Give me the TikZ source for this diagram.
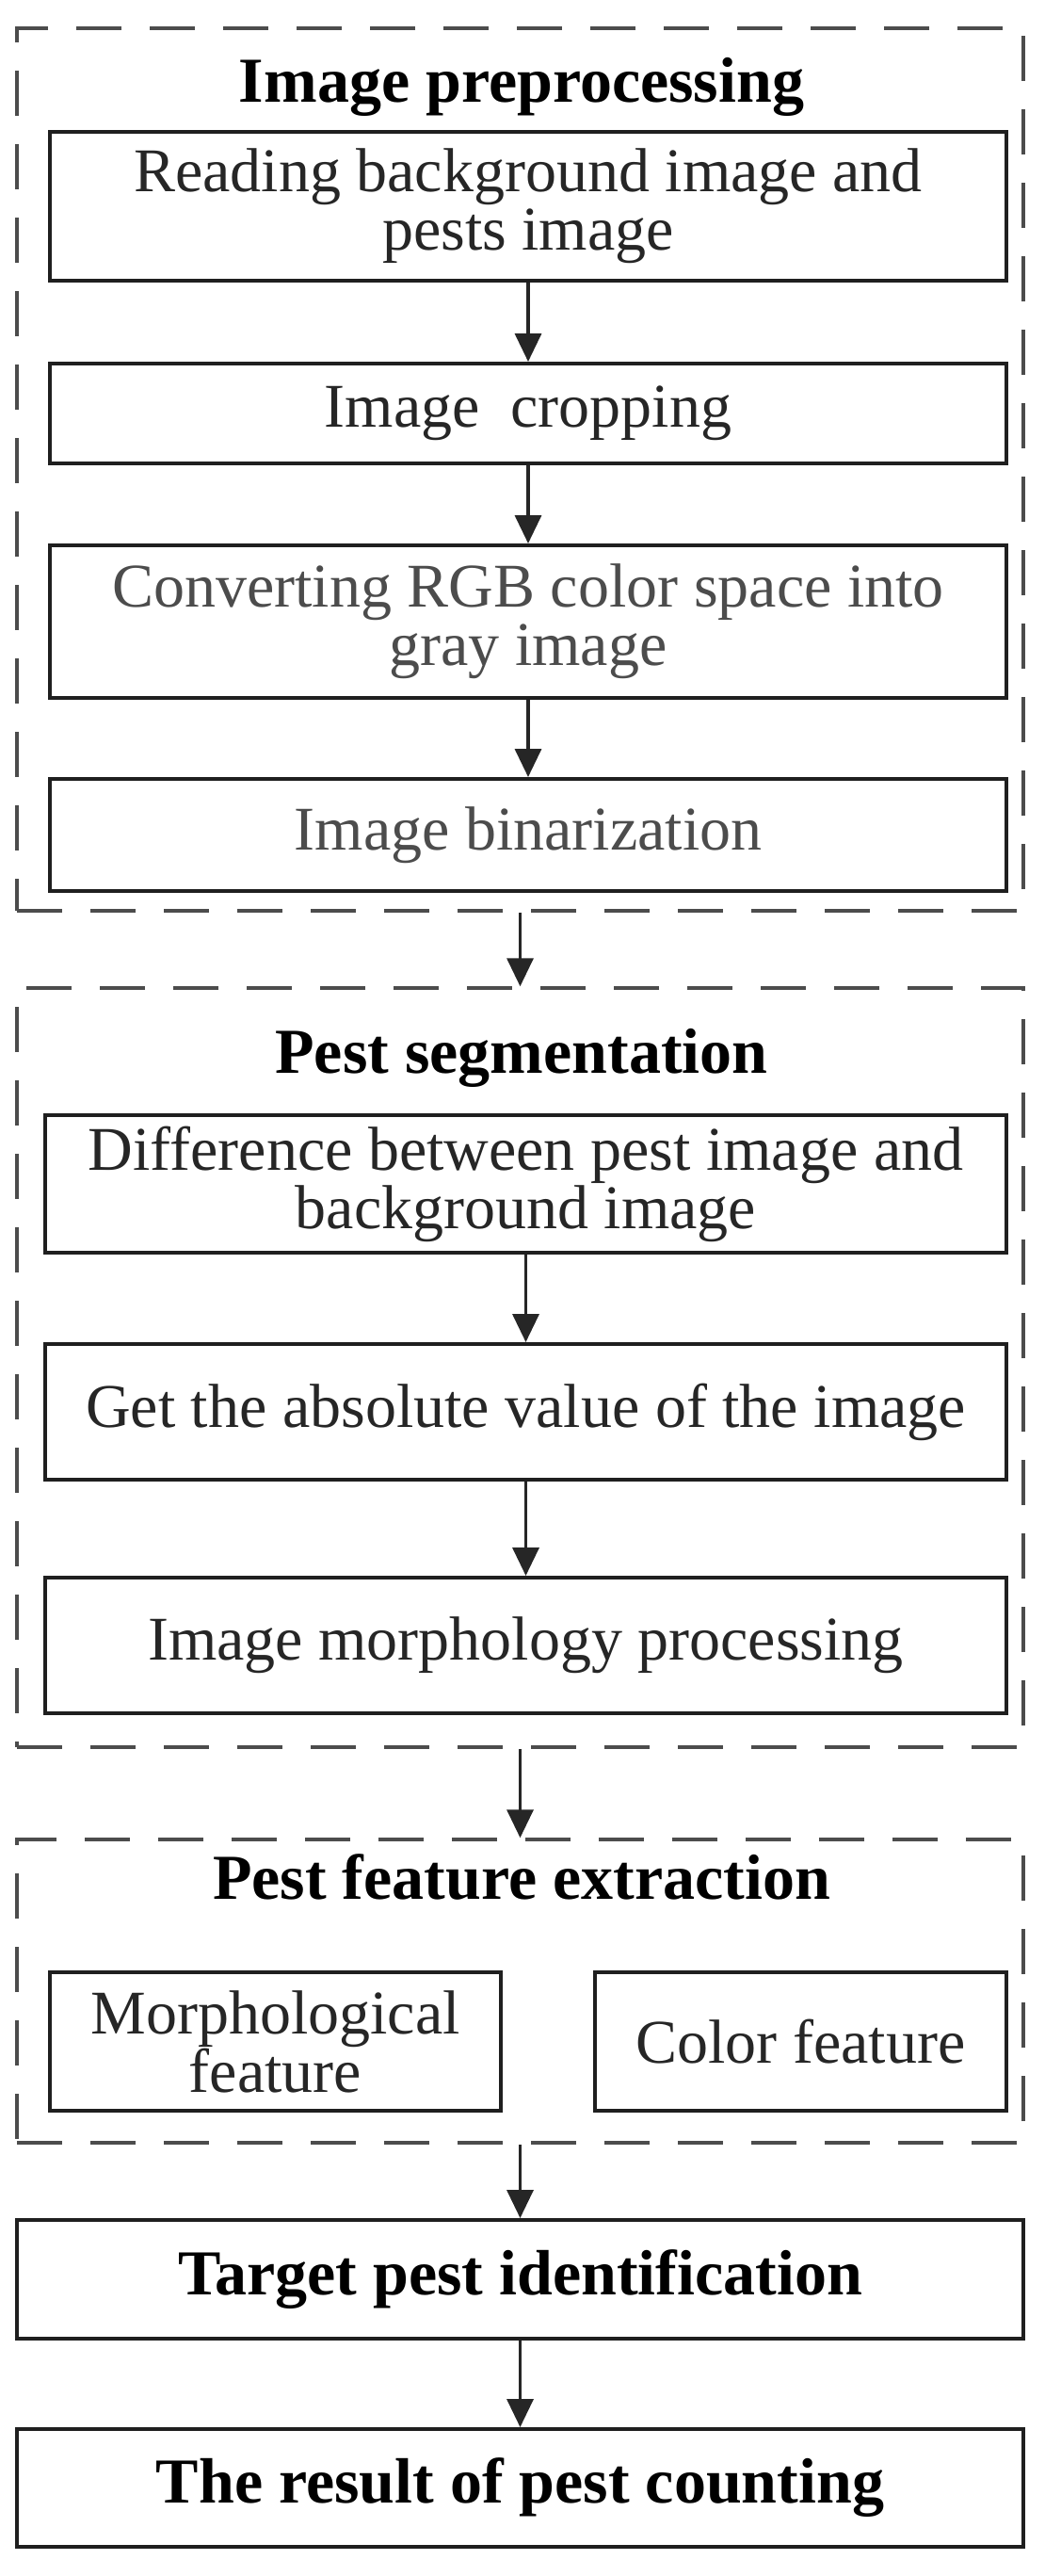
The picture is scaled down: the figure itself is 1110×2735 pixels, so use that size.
\documentclass[tikz,border=0pt]{standalone}
\usepackage{fontspec}
\setmainfont{Liberation Serif}
\usetikzlibrary{arrows.meta}
\begin{document}
\begin{tikzpicture}[x=1pt,y=-1pt,
  box/.style={draw=black!88,line width=4pt,inner sep=0pt,align=center,font=\fontsize{66}{62}\selectfont,text=black!85},
  grp/.style={draw=black!70,line width=3.5pt,dash pattern=on 48pt off 30pt,inner sep=0pt},
  ttl/.style={font=\fontsize{68}{62}\selectfont\bfseries,inner sep=0pt},
  arr/.style={line width=3.5pt,draw=black!85,-{Triangle[length=30pt,width=28pt]}}]
\fill[white] (0,0) rectangle (1110,2735);
\node[grp,minimum width=1069pt,minimum height=937pt] (D1) at (552.5,498.5) {};
\node[grp,minimum width=1069pt,minimum height=806pt] (D2) at (552.5,1452) {};
\node[grp,minimum width=1069pt,minimum height=322pt] (D3) at (552.5,2114) {};
\node[ttl] (T1) at (554,92) {Image preprocessing};
\node[ttl] (T2) at (554,1123) {Pest segmentation};
\node[ttl] (T3) at (554,1993) {Pest feature extraction};
\node[box,minimum width=1016pt,minimum height=158pt] (b1) at (561,219) {Reading background image and\\pests image};
\node[box,minimum width=1016pt,minimum height=106pt] (b2) at (561,439) {Image\ \ cropping};
\node[box,minimum width=1016pt,minimum height=162pt,text=black!70] (b3) at (561,660) {Converting RGB color space into\\gray image};
\node[box,minimum width=1016pt,minimum height=119pt,text=black!70] (b4) at (561,886.5) {Image binarization};
\node[box,minimum width=1021pt,minimum height=146pt] (s1) at (558.5,1257) {Difference between pest image and\\background image};
\node[box,minimum width=1021pt,minimum height=144pt] (s2) at (558.5,1499) {Get the absolute value of the image};
\node[box,minimum width=1021pt,minimum height=144pt] (s3) at (558.5,1747) {Image morphology processing};
\node[box,minimum width=479pt,minimum height=147pt] (m1) at (292.5,2167.5) {Morphological\\feature};
\node[box,minimum width=437pt,minimum height=147pt] (m2) at (850.5,2167.5) {Color feature};
\node[box,minimum width=1069pt,minimum height=126pt,font=\fontsize{68}{62}\selectfont\bfseries,text=black] (t1) at (552.5,2420) {Target pest identification};
\node[box,minimum width=1069pt,minimum height=125pt,font=\fontsize{68}{62}\selectfont\bfseries,text=black] (t2) at (552.5,2641.5) {The result of pest counting};
\draw[arr] (b1) -- (b2);
\draw[arr] (b2) -- (b3);
\draw[arr] (b3) -- (b4);
\draw[arr] (D1) -- (D2);
\draw[arr] (s1) -- (s2);
\draw[arr] (s2) -- (s3);
\draw[arr] (D2) -- (D3);
\draw[arr] (D3) -- (t1);
\draw[arr] (t1) -- (t2);
\end{tikzpicture}
\end{document}
